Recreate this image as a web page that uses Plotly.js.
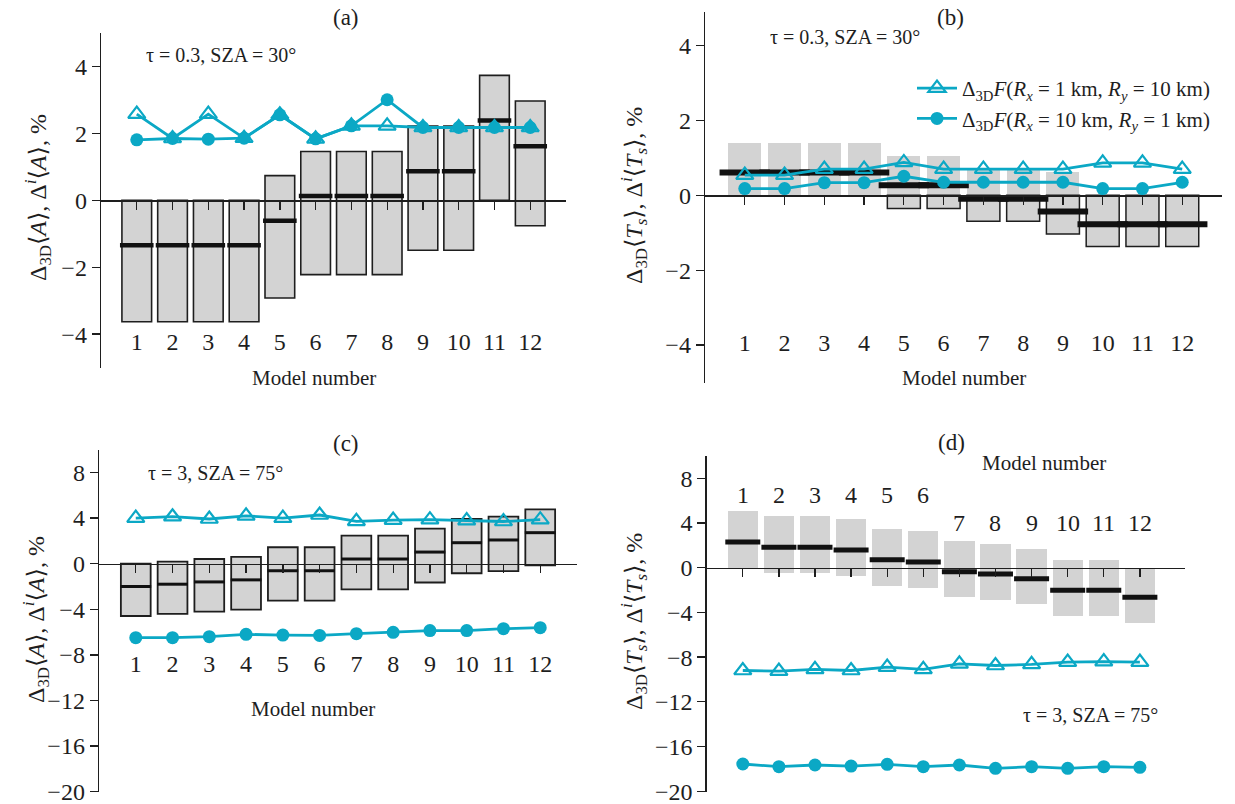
<!DOCTYPE html>
<html>
<head>
<meta charset="utf-8">
<script src="https://cdn.plot.ly/plotly-3.0.1.min.js"></script>
<style>html,body{margin:0;padding:0;background:#fff;}#chart{width:1235px;height:804px;}</style>
</head>
<body>
<div id="chart"></div>
<script>
// ---------- data ----------
const models = [1,2,3,4,5,6,7,8,9,10,11,12];
const tickLabels = ['1','2','3','4','5','6','7','8','9','10','11','12'];

// (a) tau = 0.3, SZA = 30°, albedo
const aTop  = [0,0,0,0,0.74,1.46,1.46,1.46,2.22,2.22,3.74,2.97];
const aBot  = [-3.63,-3.63,-3.63,-3.63,-2.92,-2.22,-2.22,-2.22,-1.49,-1.49,0,-0.76];
const aMean = [-1.34,-1.34,-1.34,-1.34,-0.61,0.13,0.13,0.13,0.87,0.87,2.39,1.62];
const aTri  = [2.58,1.85,2.58,1.86,2.56,1.84,2.23,2.23,2.18,2.18,2.18,2.18];
const aCirc = [1.81,1.85,1.83,1.86,2.56,1.84,2.23,3.01,2.18,2.18,2.18,2.18];

// (b) tau = 0.3, SZA = 30°, transmittance
const bTop  = [1.4,1.4,1.4,1.4,1.06,1.06,0.7,0.7,0.62,0,0,0];
const bBot  = [0,0,0,0,-0.35,-0.35,-0.69,-0.69,-1.03,-1.37,-1.37,-1.37];
const bMean = [0.61,0.61,0.61,0.61,0.27,0.27,-0.09,-0.09,-0.43,-0.77,-0.77,-0.77];
const bTri  = [0.54,0.54,0.7,0.7,0.88,0.7,0.7,0.7,0.7,0.87,0.87,0.7];
const bCirc = [0.18,0.18,0.34,0.34,0.51,0.35,0.35,0.35,0.35,0.18,0.18,0.35];

// (c) tau = 3, SZA = 75°, albedo
const cTop  = [0,0.18,0.41,0.59,1.44,1.44,2.46,2.46,3.07,3.92,4.12,4.77];
const cBot  = [-4.59,-4.41,-4.2,-4.03,-3.24,-3.24,-2.26,-2.26,-1.65,-0.84,-0.65,-0.14];
const cMean = [-2.0,-1.8,-1.6,-1.42,-0.62,-0.62,0.41,0.41,1.02,1.84,2.08,2.72];
const cTri  = [4.0,4.12,3.92,4.2,4.0,4.27,3.72,3.83,3.86,3.78,3.7,3.86];
const cCirc = [-6.49,-6.49,-6.4,-6.2,-6.26,-6.29,-6.14,-6.02,-5.87,-5.87,-5.7,-5.61];

// (d) tau = 3, SZA = 75°, transmittance
const dTop  = [5.08,4.6,4.6,4.39,3.49,3.26,2.39,2.12,1.7,0.66,0.66,0];
const dBot  = [0,-0.5,-0.5,-0.74,-1.61,-1.82,-2.65,-2.89,-3.28,-4.3,-4.32,-4.92];
const dMean = [2.3,1.83,1.83,1.58,0.72,0.51,-0.36,-0.56,-0.98,-2.02,-2.02,-2.65];
const dTri  = [-9.2,-9.25,-9.1,-9.2,-8.9,-9.1,-8.6,-8.75,-8.65,-8.45,-8.4,-8.45];
const dCirc = [-17.57,-17.81,-17.66,-17.75,-17.6,-17.81,-17.66,-17.96,-17.81,-17.96,-17.81,-17.87];
const dLabelY = [6.5,6.5,6.5,6.5,6.5,6.5,4.0,4.0,4.0,4.0,4.0,4.0];

// ---------- style ----------
const W = 1235, H = 804;
const SERIF = '"Liberation Serif", "Times New Roman", "DejaVu Serif", serif';
const INK = '#1e1e1e';
const TEAL = '#0ba8c5';
const GRAY = '#d3d3d3';
const px = x => x / W;
const py = y => 1 - y / H;

const legTri  = 'Δ<sub>3D</sub><i>F</i>(<i>R<sub>x</sub></i> = 1 km, <i>R<sub>y</sub></i> = 10 km)';
const legCirc = 'Δ<sub>3D</sub><i>F</i>(<i>R<sub>x</sub></i> = 10 km, <i>R<sub>y</sub></i> = 1 km)';

const traces = [];

function diff(t, b){ return t.map((v,i)=>v-b[i]); }

function addPanel(k, top, bot, mean, tri, circ, opt){
  const xa = 'x' + (k===1?'':k), ya = 'y' + (k===1?'':k);
  if (opt.split) {
    // positive part without outline, negative part with outline
    const posH = top.map(v => v > 0 ? v : null);
    const negB = bot.map(v => v < 0 ? v : null);
    const negH = bot.map(v => v < 0 ? -v : null);
    traces.push({type:'bar', x:models, y:posH, base:models.map(()=>0), width:opt.bw,
      marker:{color:GRAY, line:{width:0}}, xaxis:xa, yaxis:ya, showlegend:false, hoverinfo:'skip'});
    traces.push({type:'bar', x:models, y:negH, base:negB, width:opt.bw,
      marker:{color:GRAY, line:{color:INK, width:1.5}}, xaxis:xa, yaxis:ya, showlegend:false, hoverinfo:'skip'});
  } else {
    traces.push({type:'bar', x:models, y:diff(top,bot), base:bot, width:opt.bw,
      marker:{color:GRAY, line:{color:INK, width:opt.border}}, xaxis:xa, yaxis:ya, showlegend:false, hoverinfo:'skip'});
  }
  traces.push({type:'scatter', mode:'markers', x:models, y:mean, xaxis:xa, yaxis:ya, showlegend:false,
    marker:{symbol:'line-ew', size:opt.dw, color:'#111', line:{color:'#111', width:opt.dt}}, hoverinfo:'skip'});
  traces.push({type:'scatter', mode:'lines+markers', x:models, y:tri, xaxis:xa, yaxis:ya,
    name:legTri, showlegend:opt.legend, legendrank:1,
    line:{color:TEAL, width:2.8},
    marker:{symbol:'triangle-up-open', size:15, color:TEAL, line:{color:TEAL, width:2.2}}});
  traces.push({type:'scatter', mode:'lines+markers', x:models, y:circ, xaxis:xa, yaxis:ya,
    name:legCirc, showlegend:opt.legend, legendrank:2,
    line:{color:TEAL, width:2.8},
    marker:{symbol:'circle', size:13, color:TEAL}});
}

addPanel(1, aTop, aBot, aMean, aTri, aCirc, {bw:0.83, border:1.6, dw:24, dt:4.5, legend:false});
addPanel(2, bTop, bBot, bMean, bTri, bCirc, {bw:0.83, split:true, dw:36, dt:6, legend:true});
addPanel(3, cTop, cBot, cMean, cTri, cCirc, {bw:0.81, border:1.8, dw:22, dt:3, legend:false});
addPanel(4, dTop, dBot, dMean, dTri, dCirc, {bw:0.84, border:0, dw:25, dt:5, legend:false});

// panel geometry (pixels of the 1235x804 canvas)
const panels = [
  {xd:[101,566],   yd:[33.2,368.2], xr:[0,13],    yr:[-5.02,5],   dtick:2, standoff:112, showLab:true},
  {xd:[705,1222],  yd:[12,383.2],   xr:[0,13],    yr:[-5.02,4.9], dtick:2, standoff:118, showLab:true},
  {xd:[99,577],    yd:[449.7,792],  xr:[0,13],    yr:[-20.03,10], dtick:4, standoff:70,  showLab:true},
  {xd:[706.7,1185],yd:[456,791.5],  xr:[0,13.25], yr:[-20.03,10], dtick:4, standoff:0,   showLab:false}
];

const tickFont = {family:SERIF, size:24, color:INK};
const layout = {
  width:W, height:H, margin:{l:0,r:0,t:0,b:0},
  paper_bgcolor:'#fff', plot_bgcolor:'rgba(0,0,0,0)',
  barmode:'overlay', bargap:0,
  font:{family:SERIF, color:INK},
  showlegend:true,
  legend:{x:px(912), y:py(68), xanchor:'left', yanchor:'top', bgcolor:'rgba(0,0,0,0)',
    font:{family:SERIF, size:21, color:INK}, itemwidth:40, tracegroupgap:0, traceorder:'normal'},
  annotations:[], 
};

panels.forEach((p,i)=>{
  const n = i===0 ? '' : String(i+1);
  const yDom = [py(p.yd[1]), py(p.yd[0])];
  const zeroPos = yDom[0] + (0 - p.yr[0])/(p.yr[1]-p.yr[0])*(yDom[1]-yDom[0]);
  layout['xaxis'+n] = {
    domain:[px(p.xd[0]), px(p.xd[1])], range:p.xr, anchor:'free', position:zeroPos,
    showline:true, linecolor:INK, linewidth:1.3, ticks:'outside', ticklen:8, tickwidth:1.3, tickcolor:INK,
    tickvals:models, ticktext:tickLabels, showgrid:false, zeroline:false, fixedrange:true,
    showticklabels:p.showLab, ticklabelstandoff:p.standoff, ticklabeloverflow:'allow', tickfont:tickFont
  };
  layout['yaxis'+n] = {
    domain:yDom, range:p.yr, anchor:'x'+n,
    showline:true, linecolor:INK, linewidth:1.3, ticks:'outside', ticklen:8, tickwidth:1.3, tickcolor:INK,
    tick0:0, dtick:p.dtick, showgrid:false, zeroline:false, fixedrange:true,
    ticklabeloverflow:'allow', tickfont:tickFont
  };
});

// (d) tick labels above the bars
models.forEach((m,i)=>{
  layout.annotations.push({xref:'x4', yref:'y4', x:m, y:dLabelY[i], text:tickLabels[i], showarrow:false,
    font:{family:SERIF, size:24, color:INK}});
});

function txt(x, y, text, size, angle){
  layout.annotations.push({xref:'paper', yref:'paper', x:px(x), y:py(y), text:text, showarrow:false,
    xanchor:'center', yanchor:'middle', textangle:angle||0, font:{family:SERIF, size:size, color:INK}});
}
const yTitA = 'Δ<sub>3D</sub>⟨<i>A</i>⟩, Δ<sup><i>i</i></sup>⟨<i>A</i>⟩, %';
const yTitT = 'Δ<sub>3D</sub>⟨<i>T<sub>s</sub></i>⟩, Δ<sup><i>i</i></sup>⟨<i>T<sub>s</sub></i>⟩, %';

txt(346, 18, '(a)', 23);
txt(221, 55, 'τ = 0.3, SZA = 30°', 20);
txt(314, 378, 'Model number', 21);
txt(38, 198, yTitA, 24, -90);

txt(950, 17, '(b)', 23);
txt(845, 37, 'τ = 0.3, SZA = 30°', 20);
txt(964, 378, 'Model number', 21);
txt(634, 196, yTitT, 24, -90);

txt(346, 443, '(c)', 23);
txt(215, 473, 'τ = 3, SZA = 75°', 20);
txt(313, 709, 'Model number', 21);
txt(36, 620, yTitA, 24, -90);

txt(951, 442, '(d)', 23);
txt(1044, 463, 'Model number', 21);
txt(1090, 715, 'τ = 3, SZA = 75°', 20);
txt(634, 622, yTitT, 24, -90);

Plotly.newPlot('chart', traces, layout, {displayModeBar:false, staticPlot:true});
</script>
</body>
</html>
